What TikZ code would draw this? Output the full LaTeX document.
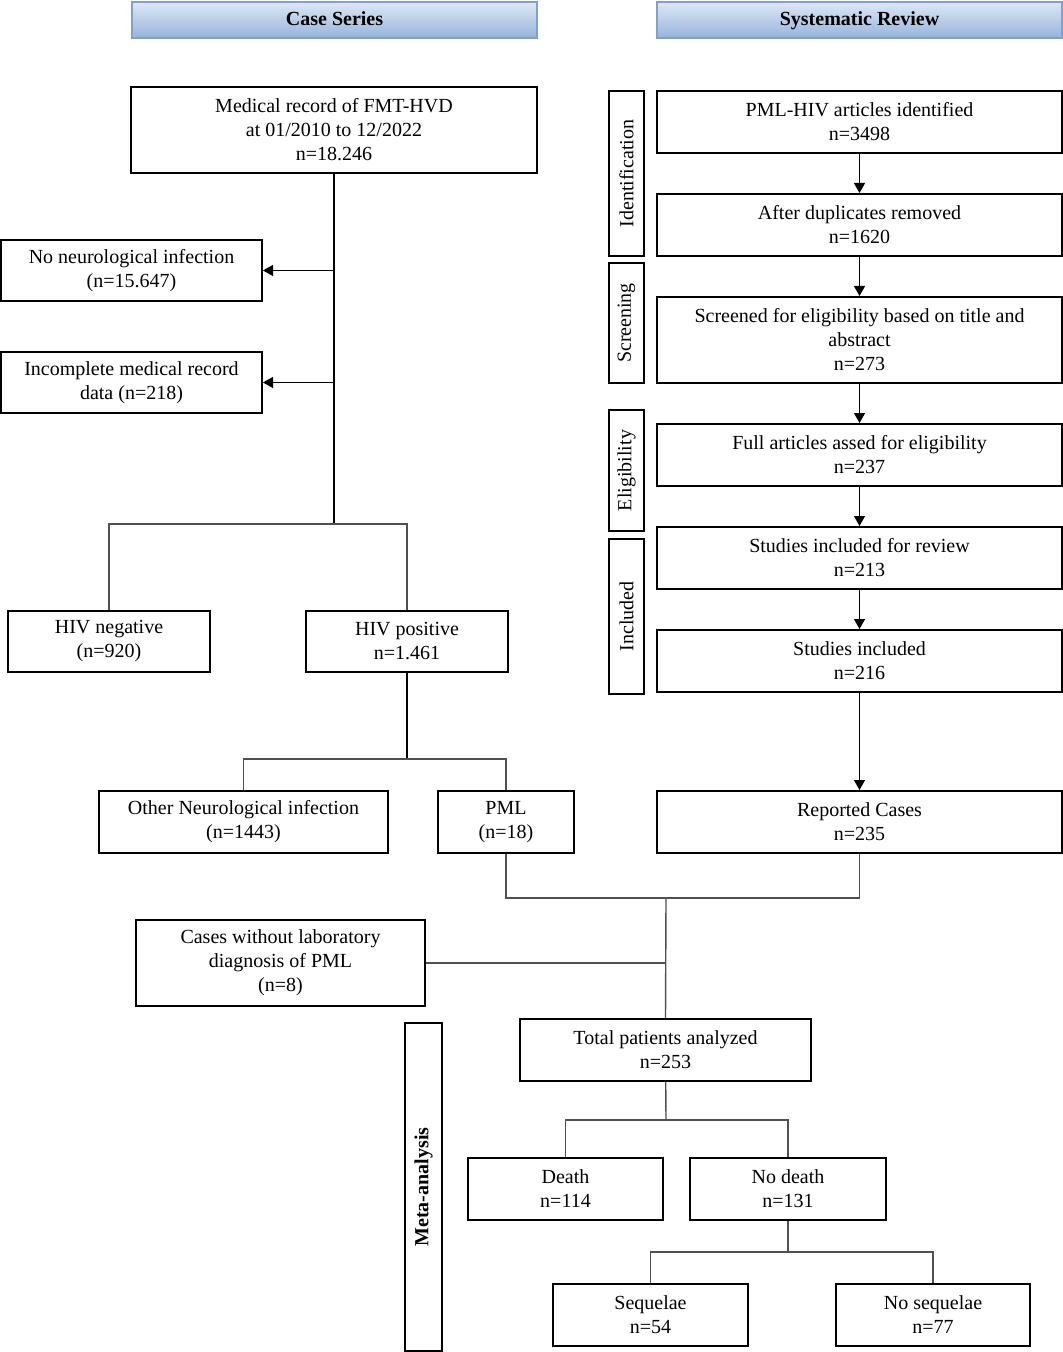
\documentclass[tikz,border=0pt]{standalone}
\usepackage{fontspec}
\setmainfont{Liberation Serif}
\usetikzlibrary{chains}
\usetikzlibrary{positioning, arrows.meta}

\definecolor{headtop}{RGB}{222,231,245}
\definecolor{headbot}{RGB}{150,180,220}
\definecolor{headline}{RGB}{130,160,205}
\definecolor{linkgray}{RGB}{80,80,80}

\begin{document}
\begin{tikzpicture}[
x=0.5pt, y=-0.5pt,
start chain=1 going below,
node distance=19.5pt,
box/.style={
	rectangle,
	draw=black,
	line width=1pt,
	align=center,
	inner sep=2pt,
	minimum height=31pt
},
wide/.style={
	minimum width=202.5pt
},
tall/.style={
	minimum height=43pt
},
head/.style={
	rectangle,
	draw=headline,
	line width=0.6pt,
	top color=headtop,
	bottom color=headbot,
	minimum width=202.5pt,
	minimum height=18pt,
	text height=1.6ex,
	text depth=0.3ex,
	font=\fontsize{10}{12}\selectfont\bfseries
},
phase/.style={
	rectangle,
	draw=black,
	line width=1pt,
	rotate=90,
	inner sep=1pt,
	minimum height=17.5pt
},
flow/.style={
	-{Triangle[length=5pt,width=5.5pt]},
	line width=0.6pt
},
split/.style={
	draw=linkgray,
	line width=0.7pt
},
every node/.style={font=\fontsize{10}{12}\selectfont}
]
\useasboundingbox (0,0) rectangle (1063,1352);

% Headers
\node [head] (CaseHead) at (334.5,20) {Case Series};
\node [head] (RevHead) at (859.5,20) {Systematic Review};

% Case series
\node [box, tall, minimum width=203pt] (Records) at (334,130) {Medical record of FMT-HVD\\at 01/2010 to 12/2022\\n=18.246};
\node [box, minimum width=130.5pt, minimum height=30.5pt] (NoNeuro) at (131.5,270.5) {No neurological infection\\(n=15.647)};
\node [box, minimum width=130.5pt, minimum height=30.5pt] (Incomplete) at (131.5,382.5) {Incomplete medical record\\data (n=218)};
\node [box, minimum width=101pt, minimum height=30.5pt] (HIVneg) at (109,641.5) {HIV negative\\(n=920)};
\node [box, minimum width=101pt, minimum height=30.5pt] (HIVpos) at (407,641.5) {HIV positive\\n=1.461};
\node [box, minimum width=144.5pt] (OtherNeuro) at (243.5,822) {Other Neurological infection\\(n=1443)};
\node [box, minimum width=68pt] (PML) at (506,822) {PML\\(n=18)};
\node [box, tall, minimum width=144.5pt] (NoLab) at (280.5,963) {Cases without laboratory\\diagnosis of PML\\(n=8)};

% Systematic review
\node [box, wide, on chain=1] (Found) at (859.5,122) {PML-HIV articles identified\\n=3498};
\node [box, wide, on chain=1] (Dupl) {After duplicates removed\\n=1620};
\node [box, wide, tall, on chain=1] (Screen) {Screened for eligibility based on title and\\abstract\\n=273};
\node [box, wide, on chain=1] (FullText) {Full articles assed for eligibility\\n=237};
\node [box, wide, on chain=1] (ForReview) {Studies included for review\\n=213};
\node [box, wide, on chain=1] (Included) {Studies included\\n=216};
\node [box, wide] (Reported) at (859.5,822) {Reported Cases\\n=235};

% Phases
\node [phase, minimum width=82.5pt] (PhIdent) at (626.5,173.5) {Identification};
\node [phase, minimum width=60pt] (PhScreen) at (626.5,323) {Screening};
\node [phase, minimum width=60.5pt] (PhElig) at (626.5,470.5) {Eligibility};
\node [phase, minimum width=77.5pt] (PhIncl) at (626.5,616.5) {Included};
\node [phase, minimum width=164pt, minimum height=18.5pt, font=\fontsize{10}{12}\selectfont\bfseries] (PhMeta) at (423.5,1187) {Meta-analysis};

% Meta-analysis
\node [box, minimum width=145.5pt] (Total) at (665.5,1050) {Total patients analyzed\\n=253};
\node [box, minimum width=97.5pt] (Death) at (565.5,1189) {Death\\n=114};
\node [box, minimum width=98pt] (NoDeath) at (788,1189) {No death\\n=131};
\node [box, minimum width=97.5pt] (Sequelae) at (650.5,1315) {Sequelae\\n=54};
\node [box, minimum width=97pt] (NoSequelae) at (933,1315) {No sequelae\\n=77};

% Junctions
\coordinate (J1) at (334,524);
\coordinate (J2) at (407,759);
\coordinate (J3) at (666,898);
\coordinate (J4) at (666,1120);
\coordinate (J5) at (788,1252);

% Connectors
\draw [line width=0.7pt] (Records) -- (J1);
\draw [flow] (Records.south |- NoNeuro.east) -- (NoNeuro.east);
\draw [flow] (Records.south |- Incomplete.east) -- (Incomplete.east);
\draw [split] (HIVneg.north) |- (J1) -| (HIVpos.north);
\draw [line width=0.7pt] (HIVpos) -- (J2);
\draw [split] (OtherNeuro.north) |- (J2) -| (PML.north);
\draw [split] (PML.south) |- (J3) -| (Reported.south);
\draw [split] (J3) -- (Total.north);
\draw [split] (NoLab.east) -- (J3 |- NoLab.east);
\draw [split] (Total) -- (J4);
\draw [split] (Death.north) |- (J4) -| (NoDeath.north);
\draw [split] (NoDeath) -- (J5);
\draw [split] (Sequelae.north) |- (J5) -| (NoSequelae.north);

\draw [flow] (Found) -- (Dupl);
\draw [flow] (Dupl) -- (Screen);
\draw [flow] (Screen) -- (FullText);
\draw [flow] (FullText) -- (ForReview);
\draw [flow] (ForReview) -- (Included);
\draw [flow] (Included) -- (Reported);

\end{tikzpicture}
\end{document}
